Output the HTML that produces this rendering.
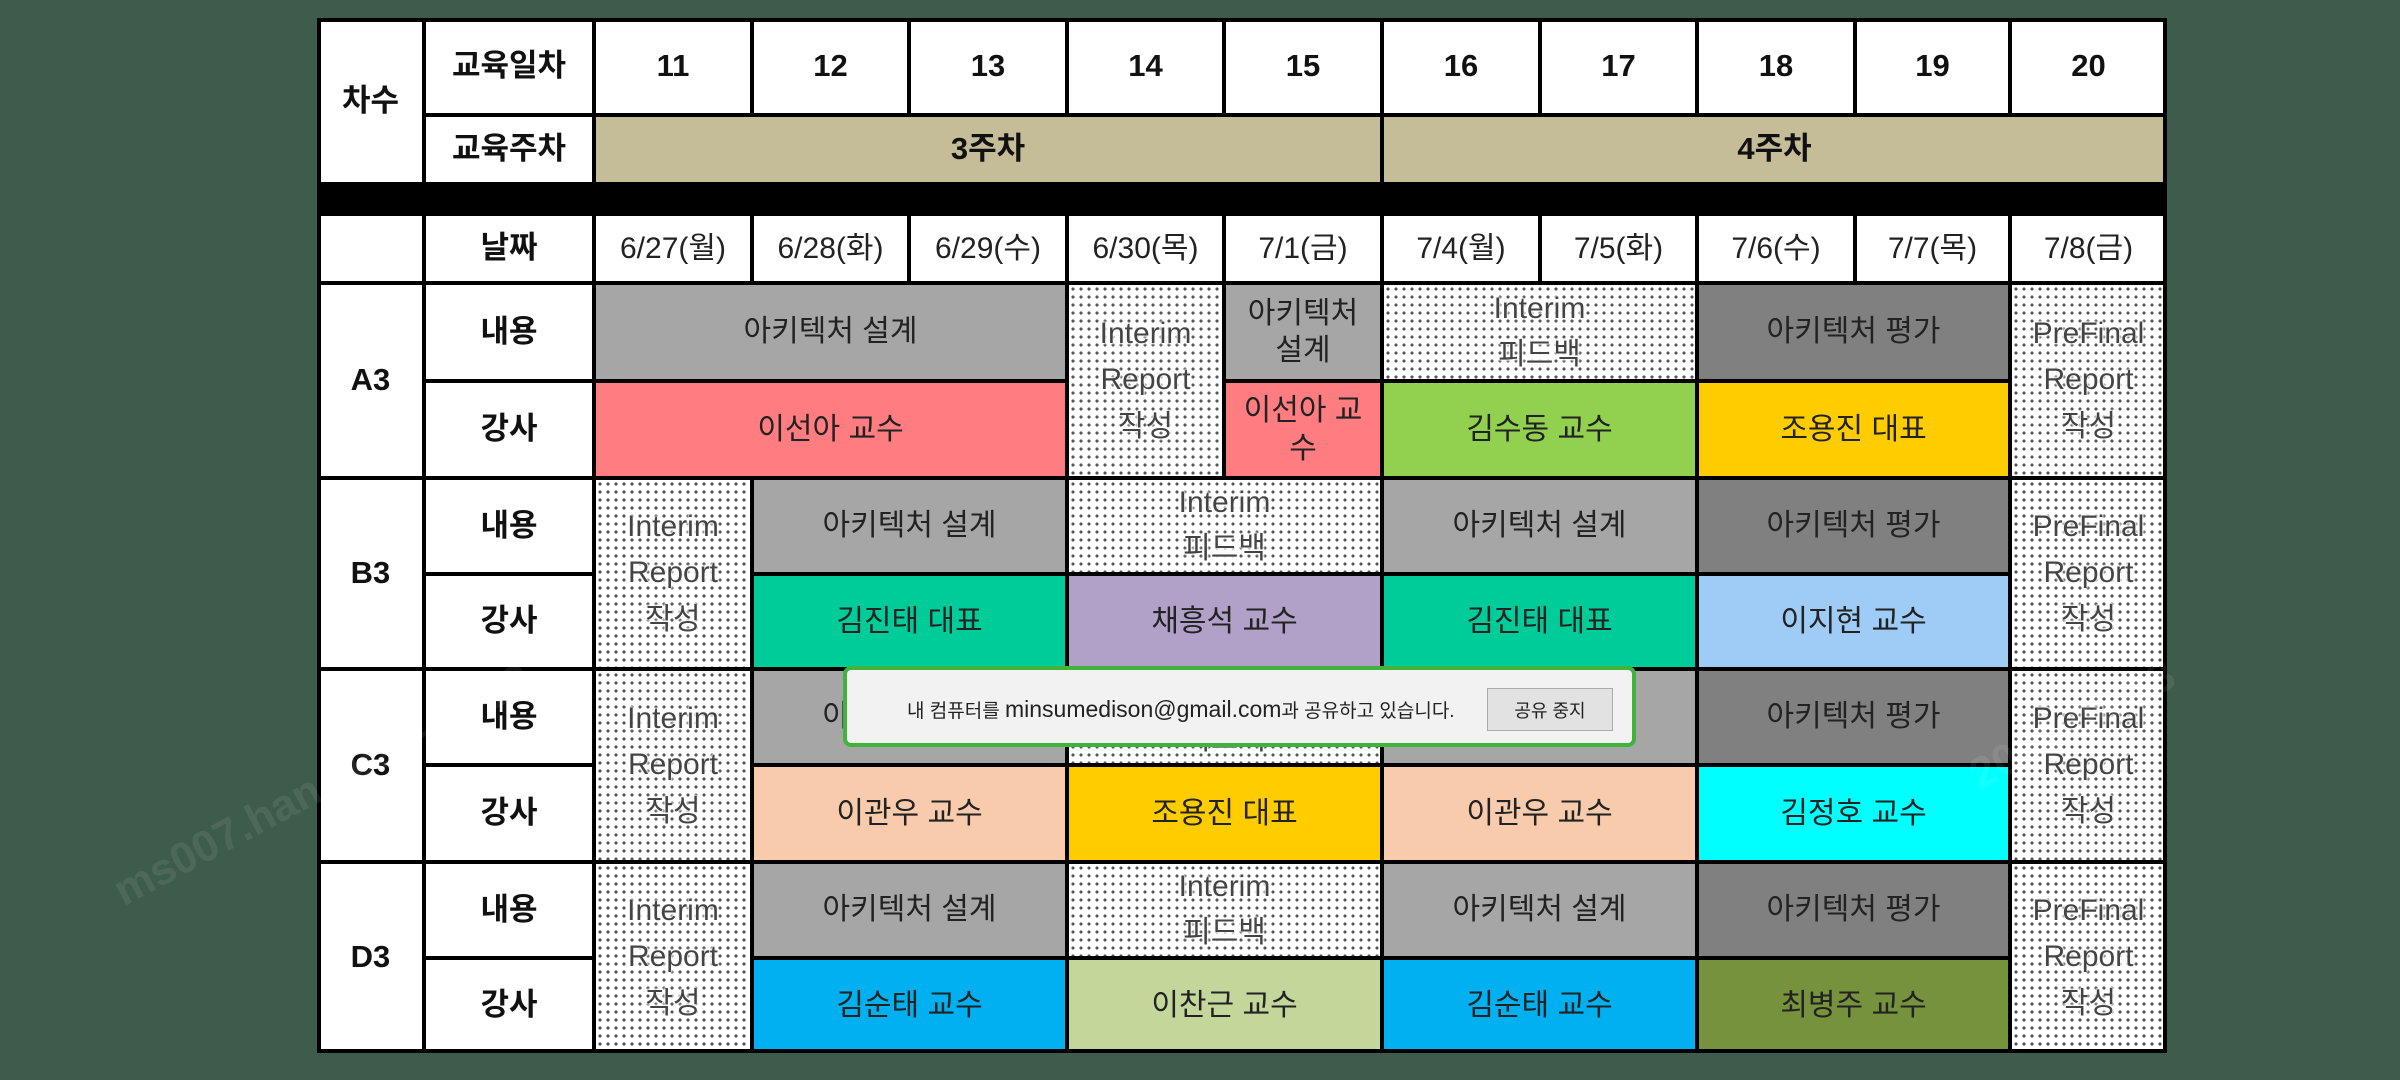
<!DOCTYPE html>
<html><head><meta charset="utf-8">
<style>
html,body{margin:0;padding:0}
body{width:2400px;height:1080px;background:#3e5c4b;position:relative;overflow:hidden;font-family:"Liberation Sans","Noto Sans CJK KR",sans-serif}
#tbl{position:absolute;left:0;top:0;width:2400px;height:1080px}
.c{position:absolute;box-sizing:border-box;border:2px solid #000;display:flex;align-items:center;justify-content:center;text-align:center;color:#222;font-size:30px;line-height:1.25;white-space:pre-line}
.h{font-weight:bold;font-size:31px;color:#111}
.dot{background-color:#fff;background-image:radial-gradient(circle,#555 1.4px,transparent 1.8px);background-size:8px 8px;color:#444;line-height:1.55;text-shadow:0 0 3px #fff,0 0 3px #fff,0 0 2px #fff,0 0 2px #fff}
#frame{position:absolute;left:317px;top:18px;width:1850px;height:1035px;box-sizing:border-box;border:4px solid #000;pointer-events:none}
#dialog{position:absolute;left:843px;top:666px;width:793px;height:81px;box-sizing:border-box;border:4px solid #3fb33a;border-radius:8px;background:#f2f2f2;font-size:19px;color:#222}
#dialog .msg{position:absolute;left:60px;top:26px;white-space:nowrap}
#dialog .msg b{font-weight:normal;font-size:23px}
#btn{position:absolute;left:640px;top:18px;width:126px;height:43px;box-sizing:border-box;border:1px solid #aaa;background:#e2e2e2;display:flex;align-items:center;justify-content:center;font-size:18px}
.wm{position:absolute;color:rgba(255,255,255,0.08);font-size:44px;font-weight:bold;transform:rotate(-28deg);white-space:nowrap}
</style></head><body>
<div id="tbl"></div>
<div id="frame"></div>
<div class="wm" style="left:90px;top:760px">ms007.han 2022-06-13</div>
<div class="wm" style="left:1960px;top:700px">2022-06-13</div>
<div id="dialog">
  <div class="msg">내 컴퓨터를 <b>minsumedison@gmail.com</b>과 공유하고 있습니다.</div>
  <div id="btn">공유 중지</div>
</div>
<script>
const X=[317,424,594,752,909,1067,1224,1382,1540,1697,1855,2010,2167];
const Y=[18,115,184,214,283,381,478,574,669,765,862,958,1053];
const days=['11','12','13','14','15','16','17','18','19','20'];
const dates=['6/27(월)','6/28(화)','6/29(수)','6/30(목)','7/1(금)','7/4(월)','7/5(화)','7/6(수)','7/7(목)','7/8(금)'];
const C={g:'#a6a6a6',dg:'#808080',r:'#ff7c80',gr:'#92d050',y:'#ffcc00',t:'#00cc99',p:'#b1a0c7',lb:'#9fcbf7',pe:'#f8cbad',cy:'#00ffff',b:'#00b0f0',lg:'#c4d79b',o:'#76923c',w:'#fff',tan:'#c4bd97'};
const cells=[];
function add(c0,c1,r0,r1,t,col,cls){cells.push([c0,c1,r0,r1,t,col,cls||''])}
add(0,1,0,2,'차수','w','h');add(1,2,0,1,'교육일차','w','h');add(1,2,1,2,'교육주차','w','h');
days.forEach((d,i)=>add(i+2,i+3,0,1,d,'w','h'));
add(2,7,1,2,'3주차','tan','h');add(7,12,1,2,'4주차','tan','h');
add(0,12,2,3,'','#000','');
add(0,1,3,4,'','w','');add(1,2,3,4,'날짜','w','h');
dates.forEach((d,i)=>add(i+2,i+3,3,4,d,'w',''));
const groups=['A3','B3','C3','D3'];
groups.forEach((g,k)=>{const r=4+2*k;add(0,1,r,r+2,g,'w','h');add(1,2,r,r+1,'내용','w','h');add(1,2,r+1,r+2,'강사','w','h');});
const D='dot';
add(2,5,4,5,'아키텍처 설계','g');add(5,6,4,6,'Interim\nReport\n작성','w',D);add(6,7,4,5,'아키텍처\n설계','g');
add(7,9,4,5,'Interim\n피드백','w',D);add(9,11,4,5,'아키텍처 평가','dg');add(11,12,4,6,'PreFinal\nReport\n작성','w',D);
add(2,5,5,6,'이선아 교수','r');add(6,7,5,6,'이선아 교\n수','r');add(7,9,5,6,'김수동 교수','gr');add(9,11,5,6,'조용진 대표','y');
add(2,3,6,8,'Interim\nReport\n작성','w',D);add(3,5,6,7,'아키텍처 설계','g');add(5,7,6,7,'Interim\n피드백','w',D);
add(7,9,6,7,'아키텍처 설계','g');add(9,11,6,7,'아키텍처 평가','dg');add(11,12,6,8,'PreFinal\nReport\n작성','w',D);
add(3,5,7,8,'김진태 대표','t');add(5,7,7,8,'채흥석 교수','p');add(7,9,7,8,'김진태 대표','t');add(9,11,7,8,'이지현 교수','lb');
add(2,3,8,10,'Interim\nReport\n작성','w',D);add(3,5,8,9,'아키텍처 설계','g');add(5,7,8,9,'Interim\n피드백','w',D);
add(7,9,8,9,'아키텍처 설계','g');add(9,11,8,9,'아키텍처 평가','dg');add(11,12,8,10,'PreFinal\nReport\n작성','w',D);
add(3,5,9,10,'이관우 교수','pe');add(5,7,9,10,'조용진 대표','y');add(7,9,9,10,'이관우 교수','pe');add(9,11,9,10,'김정호 교수','cy');
add(2,3,10,12,'Interim\nReport\n작성','w',D);add(3,5,10,11,'아키텍처 설계','g');add(5,7,10,11,'Interim\n피드백','w',D);
add(7,9,10,11,'아키텍처 설계','g');add(9,11,10,11,'아키텍처 평가','dg');add(11,12,10,12,'PreFinal\nReport\n작성','w',D);
add(3,5,11,12,'김순태 교수','b');add(5,7,11,12,'이찬근 교수','lg');add(7,9,11,12,'김순태 교수','b');add(9,11,11,12,'최병주 교수','o');

const tbl=document.getElementById('tbl');
cells.forEach((c,i)=>{
  const el=document.createElement('div');
  el.className='c '+c[6];
  el.style.left=X[c[0]]+'px';el.style.top=Y[c[2]]+'px';
  el.style.width=(X[c[1]]-X[c[0]])+'px';el.style.height=(Y[c[3]]-Y[c[2]])+'px';
  if(c[6]!=='dot')el.style.background=C[c[5]]||c[5];
  el.textContent=c[4];
  
  
  tbl.appendChild(el);
});
</script>
</body></html>
